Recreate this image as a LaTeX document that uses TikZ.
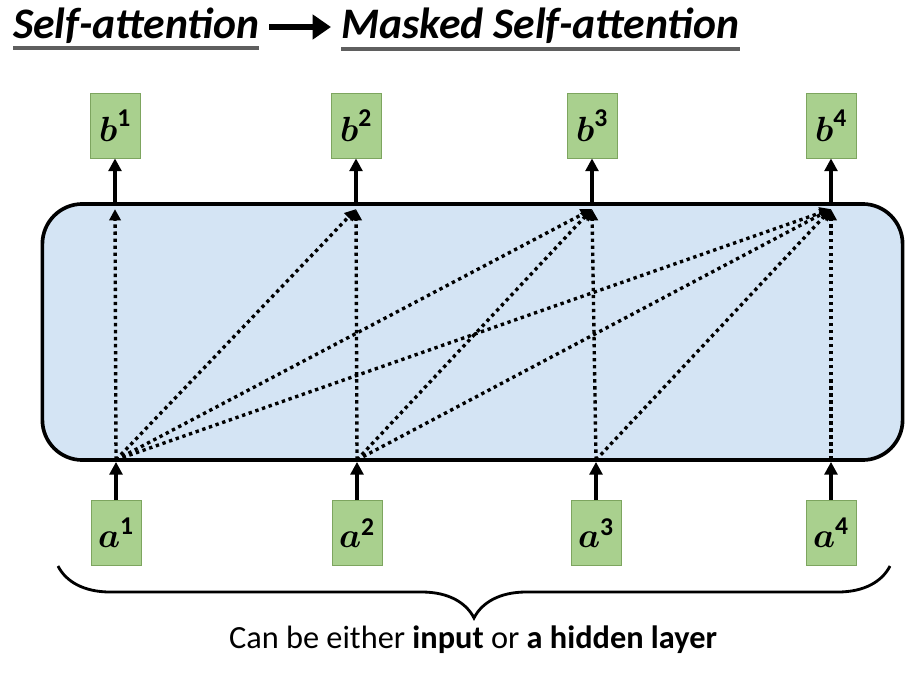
\documentclass[tikz,border=0pt]{standalone}
\usepackage{amsmath,amssymb}
\usepackage{fontspec}
\setmainfont{Carlito}
\definecolor{vecgreen}{RGB}{169,208,142}
\definecolor{vecedge}{RGB}{125,165,95}
\definecolor{layerblue}{RGB}{212,228,244}
\definecolor{ulgray}{RGB}{95,95,95}
\usetikzlibrary{arrows.meta,positioning,calc,decorations.pathreplacing}

\begin{document}
\begin{tikzpicture}[
  x=0.025cm, y=-0.025cm,
  every node/.style={inner sep=0pt},
  vecbox/.style={draw=vecedge,fill=vecgreen,minimum width=1.25cm,minimum height=1.63cm,
                 font=\fontsize{26}{30}\selectfont},
  solidarrow/.style={-{Triangle[length=9pt,width=9pt]},line width=2.6pt},
  attnarrow/.style={-{Triangle[length=8pt,width=8pt]},line width=2.4pt,
                    dash pattern=on 2.4pt off 2.6pt},
  titletext/.style={font=\fontsize{31}{36}\selectfont\bfseries\itshape,anchor=base west},
]
  \useasboundingbox (0,0) rectangle (923,677);

  % Title
  \node[titletext] (title1) at (13,38) {Self-attention};
  \node[titletext] (title2) at (341,38) {Masked Self-attention};
  \draw[ulgray,line width=2.2pt] ($(title1.base west)+(0,10)$) -- ($(title1.base east)+(0,10)$);
  \draw[ulgray,line width=2.2pt] ($(title2.base west)+(0,11)$) -- ($(title2.base east)+(0,11)$);
  \draw[-{Triangle[length=13pt,width=17pt]},line width=4.5pt]
    ($(title1.base east)+(10,-11)$) -- ($(title2.base west)+(-10,-11)$);

  % Attention layer
  \node[draw,line width=2.6pt,fill=layerblue,rounded corners=1cm,
        minimum width=21.5cm,minimum height=6.4cm] (attn) at (472.5,332) {};

  % Outputs
  \node[vecbox] (b1) at (115,125.5) {$\boldsymbol{b}^{\mathbf{1}}$};
  \node[vecbox] (b2) at (356,125.5) {$\boldsymbol{b}^{\mathbf{2}}$};
  \node[vecbox] (b3) at (592,125.5) {$\boldsymbol{b}^{\mathbf{3}}$};
  \node[vecbox] (b4) at (831,125.5) {$\boldsymbol{b}^{\mathbf{4}}$};

  % Inputs
  \node[vecbox] (a1) at (116,533) {$\boldsymbol{a}^{\mathbf{1}}$};
  \node[vecbox] (a2) at (357,533) {$\boldsymbol{a}^{\mathbf{2}}$};
  \node[vecbox] (a3) at (596,533) {$\boldsymbol{a}^{\mathbf{3}}$};
  \node[vecbox] (a4) at (831,533) {$\boldsymbol{a}^{\mathbf{4}}$};

  \foreach \i in {1,...,4} {
    \draw[solidarrow] (attn.north -| b\i) -- (b\i.south);
    \draw[solidarrow] (a\i.north) -- (attn.south -| a\i);
    \coordinate (src\i) at ($(attn.south -| a\i)+(0,-2)$);
    \coordinate (dst\i) at ($(attn.north -| b\i)+(0,7)$);
  }

  % Masked connections
  \foreach \i in {1,...,4}
    \foreach \j in {\i,...,4}
      \draw[attnarrow] (src\i) -- (dst\j);

  % Brace and caption
  \coordinate (braceL) at (58,566);
  \coordinate (braceR) at (890,566);
  \draw[decorate,decoration={brace,mirror,amplitude=1.3cm},line width=2pt]
    (braceL) -- (braceR);
  \node[font=\fontsize{23}{27}\selectfont] (caption) at (473,640)
    {Can be either \textbf{input} or \textbf{a hidden layer}};
\end{tikzpicture}
\end{document}
